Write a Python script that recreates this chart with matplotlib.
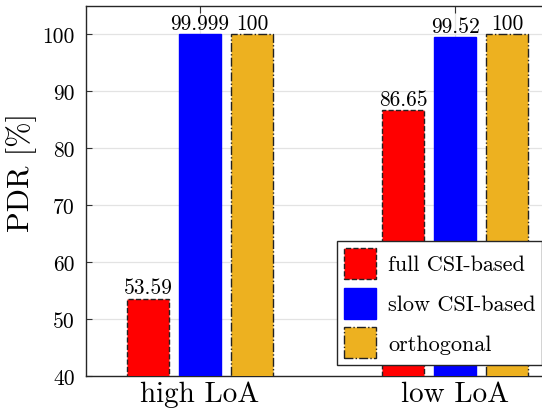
import matplotlib
matplotlib.use("Agg")
import matplotlib.pyplot as plt
import numpy as np

# PDR per scheme and LoA scenario
scenarios = ["high LoA", "low LoA"]
schemes = ["full CSI-based", "slow CSI-based", "orthogonal"]
full_csi = [53.59, 86.65]
slow_csi = [99.999, 99.52]
orthogonal = [100, 100]
value_labels = [["53.59", "86.65"], ["99.999", "99.52"], ["100", "100"]]

colors = ["#ff0000", "#0000ff", "#edb120"]
edges = ["#222222", "#0000ff", "#222222"]
styles = ["--", "-", "-."]

plt.rcParams["font.family"] = "serif"
plt.rcParams["font.serif"] = ["cmr10"]
plt.rcParams["mathtext.fontset"] = "cm"
plt.rcParams["axes.unicode_minus"] = False

fig = plt.figure(figsize=(5.42, 4.14), dpi=100)
ax = fig.add_axes([86/542, 1-377/414, 1.05 - 86/542, (377-7)/414])

x = np.arange(len(scenarios))
width = 0.165
step = 0.204
series = [full_csi, slow_csi, orthogonal]
for i, vals in enumerate(series):
    bars = ax.bar(x + (i-1)*step, vals, width, bottom=0, color=colors[i],
                  edgecolor=edges[i], linestyle=styles[i], linewidth=1.0,
                  label=schemes[i], zorder=3)
    ax.bar_label(bars, labels=value_labels[i], padding=1, fontsize=15.5, zorder=4)

ax.set_ylim(40, 105)
ax.set_xlim(-0.447, 1.447)
ax.set_yticks([40, 50, 60, 70, 80, 90, 100])
ax.set_xticks(x)
ax.set_xticklabels(scenarios, fontsize=21)
ax.tick_params(axis="y", labelsize=15.5, direction="in", length=4, color="#333333", pad=8)
ax.tick_params(axis="x", direction="in", length=5, color="#333333", top=True, bottom=True, pad=3)
ax.set_ylabel("PDR [%]", fontsize=22)
ax.yaxis.set_label_coords(-0.101, 0.553)

ax.grid(True, color="#e3e3e3", linewidth=0.9, zorder=0)
ax.set_axisbelow(True)
for s in ax.spines.values():
    s.set_color("#262626")
    s.set_linewidth(1.0)

leg = fig.legend(loc="upper left", bbox_to_anchor=(337/542, 1-242/414), fontsize=16,
                 fancybox=False, framealpha=1, edgecolor="#262626",
                 handlelength=1.45, handleheight=1.77, labelspacing=0.4,
                 borderpad=0.3, borderaxespad=0, handletextpad=0.55)
leg.get_frame().set_linewidth(1.0)

fig.savefig("out.png", dpi=100)
